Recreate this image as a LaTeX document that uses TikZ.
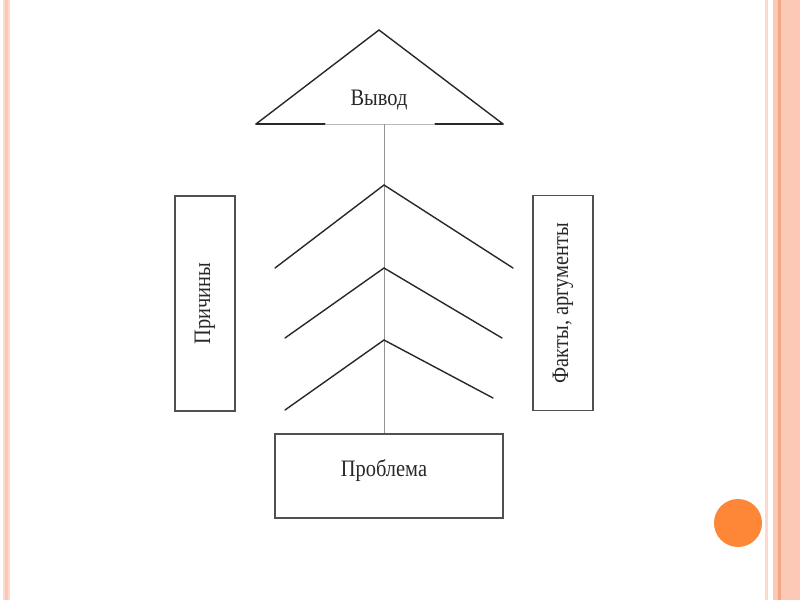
\documentclass[tikz,border=0pt]{standalone}
\usepackage{fontspec}
\setmainfont{Liberation Serif}
\usepackage{graphicx}
\usepackage{tikz}
\usetikzlibrary{positioning,calc}
\usepackage{xcolor}
\definecolor{slidepeach}{RGB}{253,200,181}
\definecolor{slidedark}{RGB}{242,166,132}
\definecolor{dotorange}{RGB}{253,134,55}
\definecolor{inkgray}{RGB}{40,40,40}
\definecolor{boxgray}{RGB}{80,80,80}
\newcommand{\tall}[1]{\scalebox{1.02}[1.18]{#1}}

\begin{document}
\begin{tikzpicture}[x=1pt, y=-1pt,
  box/.style={draw=boxgray, line width=1.3pt, inner sep=0pt,
              text=inkgray, font=\fontsize{20}{24}\selectfont},
  rbox/.style={box, rotate=90, minimum width=215, minimum height=60},
  ln/.style={line width=1.4pt, draw=inkgray, line cap=round},
  stem/.style={line width=1pt, draw=gray!85},
]
\useasboundingbox[fill=white] (0,0) rectangle (800,600);
%─── Slide frame ───────────────────────────────────────────────────────────
\fill[slidepeach!70] (3,0) rectangle (10,600);
\fill[slidepeach] (5,0) rectangle (8,600);
\fill[slidepeach!70] (765,0) rectangle (768,600);
\fill[slidepeach] (773,0) rectangle (800,600);
\fill[slidedark] (778,0) rectangle (781,600);
\fill[slidedark!60] (786,0) rectangle (788,600);
\fill[dotorange] (738,523) circle (24);
%─── Roof: conclusion ──────────────────────────────────────────────────────
\coordinate (top) at (379,30);
\coordinate (bl)  at (256,124);
\coordinate (br)  at (503,124);
\draw[ln] (bl) -- (top) -- (br);
\draw[ln] (bl) -- (325,124); \draw[ln] (435,124) -- (br);
\draw[gray!55, line width=1pt] (325,124) -- (435,124);
\node[text=inkgray, font=\fontsize{20}{24}\selectfont] (vyvod) at (379,100) {\tall{Вывод}};
%─── Side boxes and problem ────────────────────────────────────────────────
\node[rbox] (prich) at (205,303.5) {\tall{Причины}};
\node[rbox] (fakt)  at (563,303)   {\tall{Факты, аргументы}};
\node[box, minimum width=228, minimum height=84, text depth=15pt]
  (prob) at (389,476) {\tall{Проблема}\kern10pt};
%─── Stem and branches ─────────────────────────────────────────────────────
\coordinate (base) at (384,124);
\draw[stem] (base) -- (base |- prob.north);
\foreach \i/\ya/\xl/\yl/\xr/\yr in {1/185/275/268/513/268,
                                   2/268/285/338/502/338,
                                   3/340/285/410/493/398} {
  \coordinate (c\i) at (384,\ya);
  \draw[ln] (\xl,\yl) -- (c\i) -- (\xr,\yr);
}
\end{tikzpicture}
\end{document}
